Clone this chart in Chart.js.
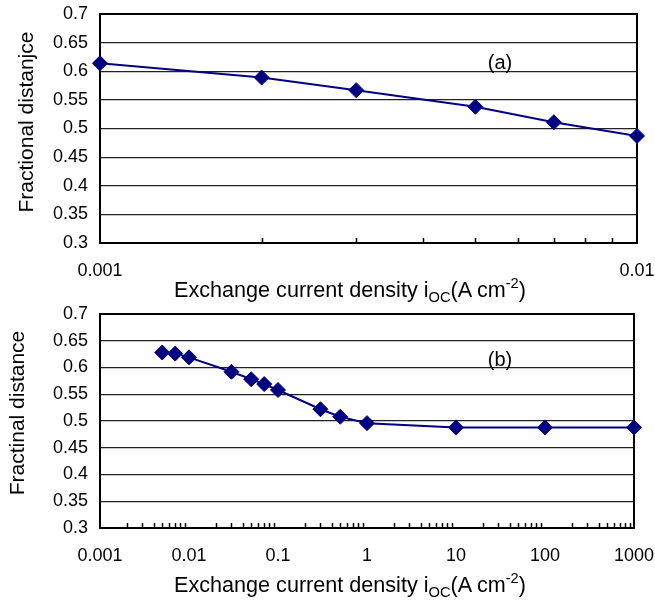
<!DOCTYPE html>
<html>
<head>
<meta charset="utf-8">
<script src="https://cdn.jsdelivr.net/npm/chart.js@4.4.1/dist/chart.umd.min.js"></script>
<style>
  body { margin: 0; background: #fff; }
  #wrap { position: relative; width: 655px; height: 600px; font-family: 'Liberation Sans', Arial, sans-serif; color: #000; }
  canvas { position: absolute; left: 0; }
  .lbl { position: absolute; white-space: nowrap; line-height: 1; transform: translate(-50%, -50%); }
  .ytitle { transform: translate(-50%, -50%) rotate(-90deg); font-size: 21px; }
  .xtitle { font-size: 21.6px; }
  .tag { font-size: 20px; }
  sub, sup { font-size: 0.68em; line-height: 0; }
  sub { vertical-align: -0.3em; }
  sup { vertical-align: 0.6em; }
</style>
</head>
<body>
<div id="wrap">
  <canvas id="chartA" width="655" height="300" style="top:0"></canvas>
  <canvas id="chartB" width="655" height="300" style="top:300px"></canvas>
  <div class="lbl ytitle" style="left:25px; top:122px">Fractional distanjce</div>
  <div class="lbl ytitle" style="left:16px; top:413px">Fractinal distance</div>
  <div class="lbl xtitle" style="left:350px; top:290px">Exchange current density i<sub>OC</sub>(A cm<sup>-2</sup>)</div>
  <div class="lbl xtitle" style="left:350px; top:585px">Exchange current density i<sub>OC</sub>(A cm<sup>-2</sup>)</div>
  <div class="lbl tag" style="left:500px; top:62px">(a)</div>
  <div class="lbl tag" style="left:500px; top:359px">(b)</div>
</div>
<script>
// panel (a)
var currentA = [0.001, 0.002, 0.003, 0.005, 0.007, 0.01];
var distanceA = [0.614, 0.589, 0.567, 0.538, 0.511, 0.487];
// panel (b)
var currentB = [0.005, 0.007, 0.01, 0.03, 0.05, 0.07, 0.1, 0.3, 0.5, 1, 10, 100, 1000];
var distanceB = [0.628, 0.626, 0.619, 0.592, 0.578, 0.569, 0.558, 0.522, 0.508, 0.496, 0.488, 0.488, 0.488];

var decadesA = [0.001, 0.01];
var decadeLabelsA = ['0.001', '0.01'];
var decadesB = [0.001, 0.01, 0.1, 1, 10, 100, 1000];
var decadeLabelsB = ['0.001', '0.01', '0.1', '1', '10', '100', '1000'];
var yTickLabels = ['0.3', '0.35', '0.4', '0.45', '0.5', '0.55', '0.6', '0.65', '0.7'];

Chart.defaults.font.family = "'Liberation Sans', Arial, sans-serif";
Chart.defaults.color = '#000';

// decade ticks plus the 2..9 minor ones between them
function logTicks(decades) {
    var ticks = [];
    decades.forEach((d, k) => {
        ticks.push({ value: d, major: true });
        if (k < decades.length - 1) {
            for (let m = 2; m <= 9; m++) {
                ticks.push({ value: +(d * m).toPrecision(3), major: false });
            }
        }
    });
    return ticks;
}

// plot frame and the small inward tick marks, like the original
var framePlugin = {
    id: 'frame',
    beforeDatasetsDraw(chart) {
        const { ctx, chartArea: a } = chart;
        const x = chart.scales.x;
        ctx.save();
        ctx.strokeStyle = '#000';
        ctx.lineWidth = 1.5;
        x.ticks.forEach(t => {
            if (t.major) return;
            const px = Math.round(x.getPixelForValue(t.value)) + 0.5;
            ctx.beginPath();
            ctx.moveTo(px, a.bottom);
            ctx.lineTo(px, a.bottom - 5);
            ctx.stroke();
        });
        ctx.lineWidth = 2;
        ctx.strokeRect(a.left, a.top, a.right - a.left, a.bottom - a.top);
        ctx.restore();
    }
};

function makeChart(id, xs, ys, decades, decadeLabels, padRight, xHeight) {
    var points = xs.map((v, i) => ({ x: v, y: ys[i] }));
    return new Chart(document.getElementById(id), {
        type: 'scatter',
        data: {
            datasets: [{
                data: points,
                showLine: true,
                borderColor: '#000080',
                backgroundColor: '#000080',
                borderWidth: 2,
                tension: 0,
                pointStyle: 'rectRot',
                pointRadius: 7.5,
                pointBorderWidth: 1,
                clip: false
            }]
        },
        options: {
            responsive: false,
            animation: false,
            devicePixelRatio: 1,
            layout: { padding: { top: 14, right: padRight, left: 0, bottom: 0 } },
            plugins: { legend: { display: false }, tooltip: { enabled: false } },
            scales: {
                x: {
                    type: 'logarithmic',
                    min: decades[0],
                    max: decades[decades.length - 1],
                    grid: { display: false },
                    border: { display: false },
                    afterBuildTicks: scale => { scale.ticks = logTicks(decades); },
                    afterFit: scale => {
                        scale.height = xHeight;
                        scale.paddingLeft = 0;
                        scale.paddingRight = 0;
                    },
                    ticks: {
                        autoSkip: false,
                        maxRotation: 0,
                        padding: 9,
                        font: { size: 18 },
                        callback: function (value) {
                            var i = decades.indexOf(value);
                            return i >= 0 ? decadeLabels[i] : '';
                        }
                    }
                },
                y: {
                    min: 0.3,
                    max: 0.7,
                    grid: { color: '#222', lineWidth: 1.2, drawTicks: false },
                    border: { display: false },
                    afterFit: scale => {
                        scale.width = 100;
                        scale.paddingTop = 0;
                        scale.paddingBottom = 0;
                    },
                    ticks: {
                        stepSize: 0.05,
                        padding: 12,
                        font: { size: 18 },
                        callback: (v, i) => yTickLabels[i]
                    }
                }
            }
        },
        plugins: [framePlugin]
    });
}

makeChart('chartA', currentA, distanceA, decadesA, decadeLabelsA, 18, 57);
makeChart('chartB', currentB, distanceB, decadesB, decadeLabelsB, 21, 72);
</script>
</body>
</html>
